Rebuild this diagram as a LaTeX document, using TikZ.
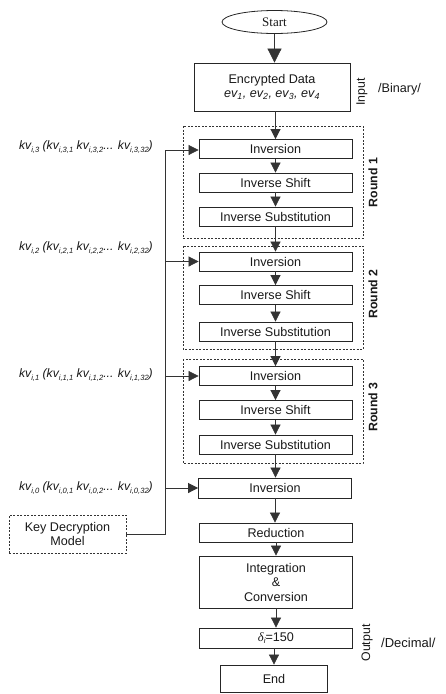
\documentclass[tikz,border=0pt]{standalone}
\usepackage{fontspec}
\setmainfont{Liberation Sans}
\newfontfamily\serifface{Liberation Serif}
\usetikzlibrary{arrows.meta,shapes.geometric}
% small lowered index used in the key labels
\newcommand\kidx[1]{\raisebox{-0.35ex}{\fontsize{7.6}{8}\selectfont #1}}

\begin{document}
\begin{tikzpicture}[x=1pt,y=-1pt,
  font=\fontsize{12.6}{14.5}\selectfont,
  every node/.style={text=black!90},
  stepbox/.style={draw=black!85, line width=0.8pt, inner sep=0pt,
    minimum width=153pt, minimum height=19pt},
  roundbox/.style={draw=black!80, line width=0.7pt, dash pattern=on 2pt off 1.5pt},
  conn/.style={draw=black!80, line width=0.7pt},
  arr/.style={conn, -{Triangle[length=10pt,width=10pt]}},
  bigarr/.style={conn, -{Triangle[length=14pt,width=14pt]}},
  roundlabel/.style={rotate=90, font=\fontsize{12.3}{14}\selectfont\bfseries},
  sidelabel/.style={rotate=90, font=\fontsize{12.3}{14}\selectfont},
  keylabel/.style={anchor=east, inner sep=0pt, font=\fontsize{12.2}{14}\selectfont\itshape}
]
\useasboundingbox (0,0) rectangle (446,694);

% start terminal and input block
\node[ellipse, draw=black!85, line width=0.8pt, minimum width=105pt, minimum height=23pt, inner sep=0pt]
  (start) at (274.5,22) {\fontsize{13}{15}\selectfont\serifface Start};
\node[stepbox, minimum width=156pt, minimum height=48pt, align=center] (enc) at (272,87)
  {Encrypted Data\\[-1pt]\itshape ev\textsubscript{1}, ev\textsubscript{2}, ev\textsubscript{3}, ev\textsubscript{4}};
\node[sidelabel] (inlab) at (362,92) {Input};
\node[anchor=west, inner sep=0pt] (binlab) at (378,89) {/Binary/};

% the three decryption rounds
\draw[roundbox] (183,126) rectangle (363,238);
\draw[roundbox] (183,246) rectangle (363,349);
\draw[roundbox] (183,359) rectangle (363,463);
\node[roundlabel] (r1) at (373,182.5) {Round 1};
\node[roundlabel] (r2) at (373,294) {Round 2};
\node[roundlabel] (r3) at (373,407) {Round 3};

\node[stepbox] (inv1) at (275.5,149) {Inversion};
\node[stepbox] (sh1)  at (275.5,182.5) {Inverse Shift};
\node[stepbox] (sub1) at (275.5,216.5) {Inverse Substitution};
\node[stepbox] (inv2) at (275.5,261.5) {Inversion};
\node[stepbox] (sh2)  at (275.5,295) {Inverse Shift};
\node[stepbox] (sub2) at (275.5,331.5) {Inverse Substitution};
\node[stepbox] (inv3) at (275.5,376) {Inversion};
\node[stepbox] (sh3)  at (275.5,410) {Inverse Shift};
\node[stepbox] (sub3) at (275.5,444.5) {Inverse Substitution};

% final steps
\node[stepbox, minimum height=20pt] (inv0) at (275,488) {Inversion};
\node[stepbox] (red) at (276,532.5) {Reduction};
\node[stepbox, minimum height=52pt, align=center] (integ) at (276,582)
  {Integration\\\&\\Conversion};
\node[stepbox, minimum height=20pt] (outv) at (276,638)
  {{\serifface\itshape δ}\raisebox{-0.3ex}{\fontsize{8}{9}\selectfont\itshape i}=150};
\node[sidelabel] (outlab) at (367,643) {Output};
\node[anchor=west, inner sep=0pt, font=\fontsize{13}{15}\selectfont] (declab) at (381,643) {/Decimal/};
\node[stepbox, minimum width=107pt, minimum height=27pt] (endn) at (274,678.5) {End};

% main flow
\draw[bigarr] (start) -- (start |- enc.north);
\draw[arr] (enc.south -| inv1) -- (inv1);
\draw[arr] (inv1) -- (sh1);
\draw[arr] (sh1) -- (sub1);
\draw[arr] (sub1) -- (inv2);
\draw[arr] (inv2) -- (sh2);
\draw[arr] (sh2) -- (sub2);
\draw[arr] (sub2) -- (inv3);
\draw[arr] (inv3) -- (sh3);
\draw[arr] (sh3) -- (sub3);
\draw[arr] (sub3) -- (sub3 |- inv0.north);
\draw[arr] (inv0) -- (inv0 |- red.north);
\draw[arr] (red) -- (integ);
\draw[arr] (integ) -- (outv);
\draw[arr] (outv.south -| endn) -- (endn);

% key schedule feeding each inversion
\node[draw=black!80, line width=0.7pt, dash pattern=on 2pt off 1.5pt,
  minimum width=117pt, minimum height=38pt, inner sep=0pt, align=center]
  (kdm) at (67.5,534) {Key Decryption\\Model};
\coordinate (bus) at (165,150);
\draw[conn] (kdm.east) -| (bus);
\draw[arr] (bus) -- (bus -| inv1.west);
\draw[arr] (bus |- inv2.west) -- (inv2.west);
\draw[arr] (bus |- inv3.west) -- (inv3.west);
\draw[arr] (bus |- inv0.west) -- (inv0.west);

\node[keylabel] (k3) at (153,147)
  {kv\kidx{i,3} (kv\kidx{i,3,1} kv\kidx{i,3,2}... kv\kidx{i,3,32})};
\node[keylabel] (k2) at (153,248)
  {kv\kidx{i,2} (kv\kidx{i,2,1} kv\kidx{i,2,2}... kv\kidx{i,2,32})};
\node[keylabel] (k1) at (153,375)
  {kv\kidx{i,1} (kv\kidx{i,1,1} kv\kidx{i,1,2}... kv\kidx{i,1,32})};
\node[keylabel] (k0) at (153,488)
  {kv\kidx{i,0} (kv\kidx{i,0,1} kv\kidx{i,0,2}... kv\kidx{i,0,32})};
\end{tikzpicture}
\end{document}
